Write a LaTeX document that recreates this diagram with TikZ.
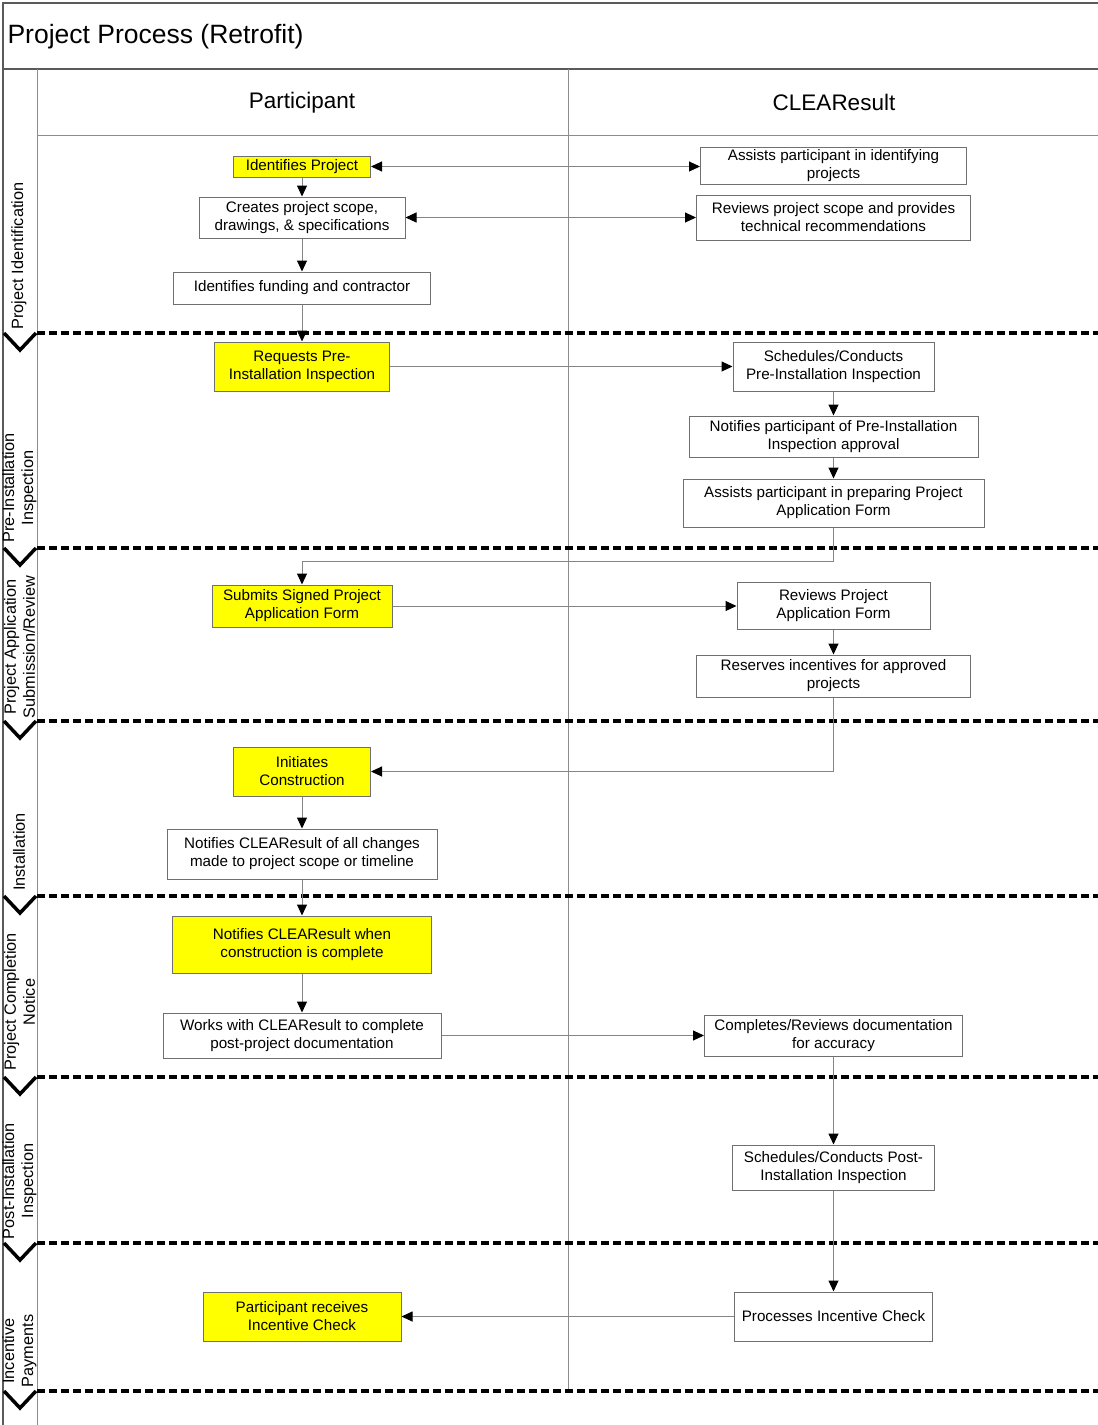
\documentclass[tikz,border=0pt]{standalone}
\usepackage{fontspec}
\setmainfont{Liberation Sans}
\usepackage{xcolor}
\usepackage{tikz}
\usetikzlibrary{arrows.meta,positioning}
\definecolor{frame}{HTML}{5A5A5A}
\definecolor{rule}{HTML}{8C8C8C}
\definecolor{edge}{HTML}{707070}
\definecolor{flowc}{HTML}{858585}
\definecolor{hilite}{HTML}{FFFF00}
\tikzset{
  box/.style={draw=edge, line width=1pt, fill=white, align=center, inner sep=2pt, font=\fontsize{15.2}{18}\selectfont},
  ybox/.style={box, fill=hilite},
  flow/.style={draw=flowc, line width=1pt, -{Triangle[length=11pt,width=10pt,color=black]}},
  both/.style={flow, {Triangle[length=11pt,width=10pt,color=black]}-{Triangle[length=11pt,width=10pt,color=black]}},
  phase/.style={draw=black, line width=3.5pt, dash pattern=on 8pt off 4pt},
  chev/.style={draw=black, line width=3.5pt, line join=miter},
  side/.style={rotate=90, align=center, font=\fontsize{16.3}{19}\selectfont},
  lane/.style={font=\fontsize{22.5}{26}\selectfont},
}

\begin{document}
\begin{tikzpicture}[x=1pt,y=-1pt]
  \useasboundingbox (0,0) rectangle (1098,1425);
  \clip (0,0) rectangle (1098,1425);

  % frame and lanes
  \draw[frame, line width=1.5pt] (3,1430) -- (3,3) -- (1102,3);
  \draw[frame, line width=1.5pt] (3,69) -- (1102,69);
  \draw[rule] (37,69) -- (37,1430);
  \draw[rule] (37,135) -- (1102,135);
  \draw[rule] (568,69) -- (568,1391);

  \node[anchor=west, font=\fontsize{26.5}{30}\selectfont] (title) at (4,36.5) {Project Process (Retrofit)};
  \node[lane] (partLane) at (302,102.5) {Participant};
  \node[lane] (clearLane) at (834,102.5) {CLEAResult};

  % phase separators
  \foreach \y in {333,548,721,896,1077,1243,1391}{
    \draw[phase] (37,\y) -- (1102,\y);
    \draw[chev] (4,\y) -- (20,{\y+17}) -- (36,\y);
  }

  \node[side] (phIdent) at (19,256) {Project Identification};
  \node[side] (phPre) at (19.5,488) {Pre-Installation\\Inspection};
  \node[side] (phApp) at (19.5,647) {Project Application\\Submission/Review};
  \node[side] (phInst) at (19,852) {Installation};
  \node[side] (phDone) at (19.5,1002) {Project Completion\\Notice};
  \node[side] (phPost) at (19.5,1181) {Post-Installation\\Inspection};
  \node[side] (phPay) at (19.5,1351) {Incentive\\Payments};

  % participant lane
  \node[ybox, minimum width=137pt, minimum height=21pt] (identProj) at (302,166.5) {Identifies Project};
  \node[box, minimum width=206pt, minimum height=41pt] (scope) at (302,217.5) {Creates project scope,\\drawings, \& specifications};
  \node[box, minimum width=257pt, minimum height=32pt] (funding) at (302,288) {Identifies funding and contractor};
  \node[ybox, minimum width=175pt, minimum height=49pt] (reqPre) at (302,366.5) {Requests Pre-\\Installation Inspection};
  \node[ybox, minimum width=180pt, minimum height=42pt] (signForm) at (302,606) {Submits Signed Project\\Application Form};
  \node[ybox, minimum width=137pt, minimum height=49pt] (initiate) at (302,771.5) {Initiates\\Construction};
  \node[box, minimum width=270pt, minimum height=50pt] (changes) at (302,854) {Notifies CLEAResult of all changes\\made to project scope or timeline};
  \node[ybox, minimum width=259pt, minimum height=57pt] (doneNote) at (302,944.5) {Notifies CLEAResult when\\construction is complete};
  \node[box, minimum width=278pt, minimum height=45pt] (postDoc) at (302,1035.5) {Works with CLEAResult to complete\\post-project documentation};
  \node[ybox, minimum width=198pt, minimum height=49pt] (receive) at (302,1316.5) {Participant receives\\Incentive Check};

  % CLEAResult lane
  \node[box, minimum width=266pt, minimum height=37pt] (assistId) at (833.5,165.5) {Assists participant in identifying\\projects};
  \node[box, minimum width=274pt, minimum height=45pt] (techRec) at (833.5,217.5) {Reviews project scope and provides\\technical recommendations};
  \node[box, minimum width=201pt, minimum height=49pt] (schedPre) at (833.5,366.5) {Schedules/Conducts\\Pre-Installation Inspection};
  \node[box, minimum width=289pt, minimum height=41pt] (approval) at (833.5,436.5) {Notifies participant of Pre-Installation\\Inspection approval};
  \node[box, minimum width=301pt, minimum height=48pt] (prepForm) at (833.5,503) {Assists participant in preparing Project\\Application Form};
  \node[box, minimum width=193pt, minimum height=47pt] (revForm) at (833.5,606) {Reviews Project\\Application Form};
  \node[box, minimum width=274pt, minimum height=42pt] (reserve) at (833.5,676) {Reserves incentives for approved\\projects};
  \node[box, minimum width=258pt, minimum height=41pt] (complete) at (833.5,1035.5) {Completes/Reviews documentation\\for accuracy};
  \node[box, minimum width=202pt, minimum height=45pt] (postInsp) at (833.5,1167.5) {Schedules/Conducts Post-\\Installation Inspection};
  \node[box, minimum width=198pt, minimum height=49pt] (check) at (833.5,1316.5) {Processes Incentive Check};

  % connectors
  \draw[both] (identProj.east) -- (identProj.east -| assistId.west);
  \draw[flow] (identProj) -- (scope);
  \draw[both] (scope.east) -- (scope.east -| techRec.west);
  \draw[flow] (scope) -- (funding);
  \draw[flow] (funding) -- (reqPre);
  \draw[flow] (reqPre) -- (schedPre);
  \draw[flow] (schedPre) -- (approval);
  \draw[flow] (approval) -- (prepForm);
  \draw[flow] (prepForm.south) -- ++(0,34) -| (signForm.north);
  \draw[flow] (signForm) -- (revForm);
  \draw[flow] (revForm) -- (reserve);
  \draw[flow] (reserve.south) |- (initiate.east);
  \draw[flow] (initiate) -- (changes);
  \draw[flow] (changes) -- (doneNote);
  \draw[flow] (doneNote) -- (postDoc);
  \draw[flow] (postDoc) -- (complete);
  \draw[flow] (complete) -- (postInsp);
  \draw[flow] (postInsp) -- (check);
  \draw[flow] (check) -- (receive);
\end{tikzpicture}
\end{document}
